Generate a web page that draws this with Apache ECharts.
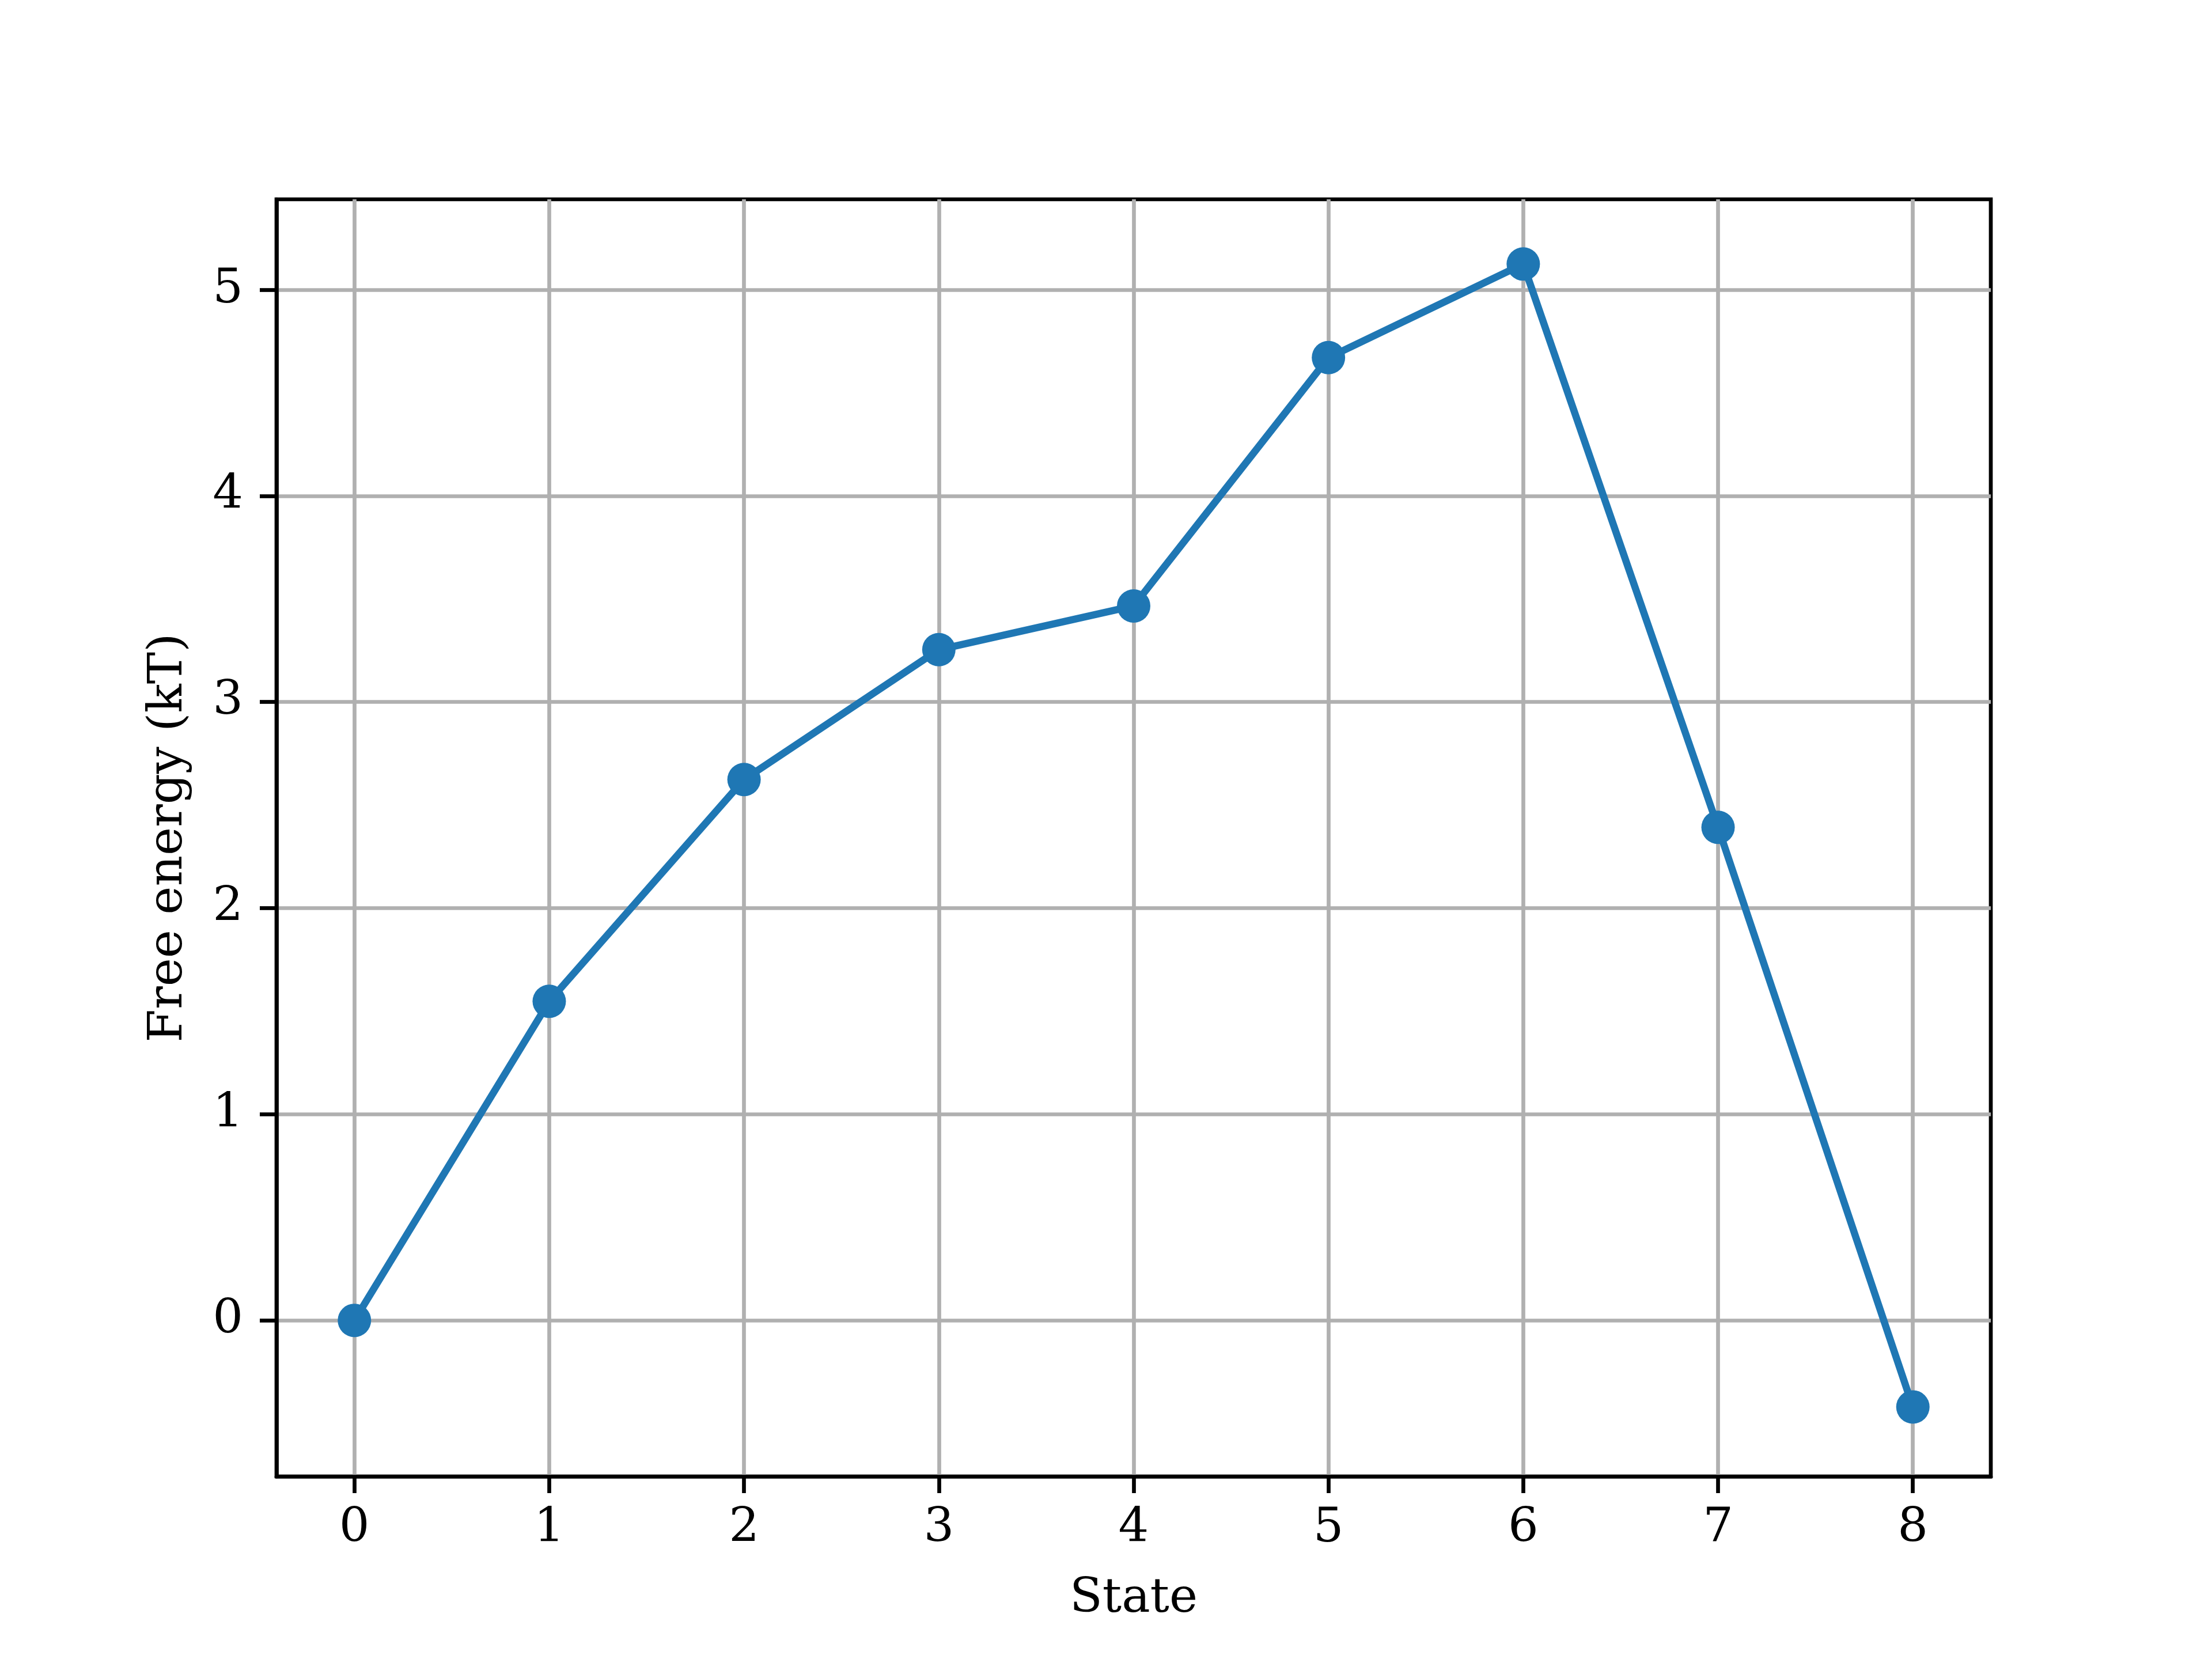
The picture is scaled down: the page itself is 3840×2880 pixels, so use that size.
<!DOCTYPE html>
<html>
<head>
<meta charset="utf-8">
<script src="https://cdn.jsdelivr.net/npm/echarts@6/dist/echarts.min.js"></script>
<style>
html,body{margin:0;padding:0;background:#fff;}
#chart{width:3840px;height:2880px;}
</style>
</head>
<body>
<div id="chart"></div>
<script>
const states = [0, 1, 2, 3, 4, 5, 6, 7, 8];
const freeEnergy = [0.0, 1.548, 2.624, 3.254, 3.466, 4.671, 5.125, 2.392, -0.420];
const xTicks = [0, 1, 2, 3, 4, 5, 6, 7, 8];
const yTicks = [0, 1, 2, 3, 4, 5];
const xLabel = 'State';
const yLabel = 'Free energy (kT)';

const FONT = 'DejaVu Serif';
const chart = echarts.init(document.getElementById('chart'), null, {renderer: 'canvas'});
const seriesData = states.map((s, i) => [s, freeEnergy[i]]);

const tickStyle = {color: '#000', width: 6.7};
const gridLine = {show: true, lineStyle: {color: '#b0b0b0', width: 6.7}};

chart.setOption({
  animation: false,
  backgroundColor: '#ffffff',
  grid: {
    left: 480, right: 384, top: 346, bottom: 317,
    show: true, borderColor: '#000', borderWidth: 6.7, backgroundColor: 'transparent'
  },
  xAxis: {
    type: 'value',
    min: -0.4, max: 8.4,
    name: xLabel,
    nameLocation: 'middle',
    nameGap: 172,
    nameTextStyle: {fontFamily: FONT, fontSize: 83, color: '#000'},
    axisLine: {show: true, onZero: false, lineStyle: tickStyle},
    axisTick: {show: true, inside: false, length: 29, lineStyle: tickStyle, customValues: xTicks},
    axisLabel: {show: true, margin: 50, fontFamily: FONT, fontSize: 83, color: '#000', customValues: xTicks},
    splitLine: gridLine
  },
  yAxis: {
    type: 'value',
    min: -0.757, max: 5.439,
    name: yLabel,
    nameLocation: 'middle',
    nameRotate: 90,
    nameGap: 145,
    nameTextStyle: {fontFamily: FONT, fontSize: 83, color: '#000'},
    axisLine: {show: true, onZero: false, lineStyle: tickStyle},
    axisTick: {show: true, inside: false, length: 29, lineStyle: tickStyle, customValues: yTicks},
    axisLabel: {show: true, margin: 58, fontFamily: FONT, fontSize: 83, color: '#000', customValues: yTicks},
    splitLine: gridLine
  },
  series: [{
    type: 'line',
    data: seriesData,
    symbol: 'circle',
    symbolSize: 58,
    showAllSymbol: true,
    lineStyle: {color: '#1f77b4', width: 12.5},
    itemStyle: {color: '#1f77b4', borderWidth: 0},
    z: 3
  }]
});
</script>
</body>
</html>
